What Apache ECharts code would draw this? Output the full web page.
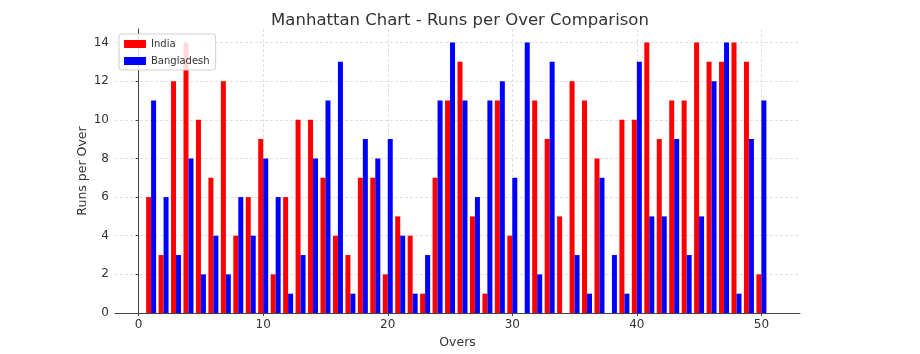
<!DOCTYPE html>
<html>
<head>
<meta charset="utf-8">
<script src="https://cdn.jsdelivr.net/npm/echarts@6/dist/echarts.min.js"></script>
<style>html,body{margin:0;padding:0;background:#fff}#c{width:920px;height:354px}</style>
</head>
<body>
<div id="c"></div>
<script>
const overs = [1,2,3,4,5,6,7,8,9,10,11,12,13,14,15,16,17,18,19,20,21,22,23,24,25,26,27,28,29,30,31,32,33,34,35,36,37,38,39,40,41,42,43,44,45,46,47,48,49,50];
const india = [6,3,12,14,10,7,12,4,6,9,2,6,10,10,7,4,3,7,7,2,5,4,1,7,11,13,5,1,11,4,0,11,9,5,12,11,8,0,10,10,14,9,11,11,14,13,13,14,13,2];
const bangladesh = [11,6,3,8,2,4,2,6,4,8,6,1,3,8,11,13,1,9,8,9,4,1,3,11,14,11,6,11,12,7,14,2,13,0,3,1,7,3,1,13,5,5,9,3,5,12,14,1,9,11];
const xTicks = [0,10,20,30,40,50];
const yTicks = [0,2,4,6,8,10,12,14];

const font = 'DejaVu Sans';
const chart = echarts.init(document.getElementById('c'), null, {renderer:'canvas'});
const gridLine = {show:true, lineStyle:{color:'#d9d9d9', type:[3,2], width:0.8}};
chart.setOption({
  animation:false,
  textStyle:{fontFamily:font},
  title:{text:'Manhattan Chart - Runs per Over Comparison', left:'center', top:7,
    textStyle:{fontFamily:font, fontSize:16.5, fontWeight:'normal', color:'#333'}},
  legend:{orient:'vertical', left:119, top:34, icon:'rect', itemWidth:22, itemHeight:8, itemGap:7,
    backgroundColor:'rgba(255,255,255,0.85)', borderColor:'#d0d0d0', borderWidth:1, borderRadius:3,
    padding:[5,6,4,5],
    textStyle:{fontFamily:font, fontSize:10, color:'#333'},
    data:['India','Bangladesh']},
  grid:{left:115, right:120, top:29, bottom:41},
  xAxis:{type:'value', min:-1.9, max:53.1,
    name:'Overs', nameLocation:'middle', nameGap:18, nameTextStyle:{fontFamily:font, fontSize:12.5, color:'#333'},
    axisLine:{show:true, lineStyle:{color:'#444', width:1}},
    axisTick:{show:true, customValues:xTicks, length:3, lineStyle:{color:'#444'}},
    axisLabel:{customValues:xTicks, fontFamily:font, fontSize:12, color:'#333', margin:6},
    splitLine:gridLine},
  yAxis:{type:'value', min:0, max:14.7,
    name:'Runs per Over', nameLocation:'middle', nameGap:26, nameMoveOverlap:false,
    nameTextStyle:{fontFamily:font, fontSize:12.5, color:'#333'},
    axisLine:{show:true, lineStyle:{color:'#444', width:1}},
    axisTick:{show:true, customValues:yTicks, length:3, lineStyle:{color:'#444'}},
    axisLabel:{customValues:yTicks, fontFamily:font, fontSize:12, color:'#333', margin:6},
    splitLine:gridLine},
  series:[
    {name:'India', type:'bar', barWidth:5, barGap:'-100%', itemStyle:{color:'#ff0000'},
      data:overs.map((o,i)=>[o-0.2, india[i]])},
    {name:'Bangladesh', type:'bar', barWidth:5, barGap:'-100%', itemStyle:{color:'#0000ff'},
      data:overs.map((o,i)=>[o+0.2, bangladesh[i]])}
  ]
});
</script>
</body>
</html>
